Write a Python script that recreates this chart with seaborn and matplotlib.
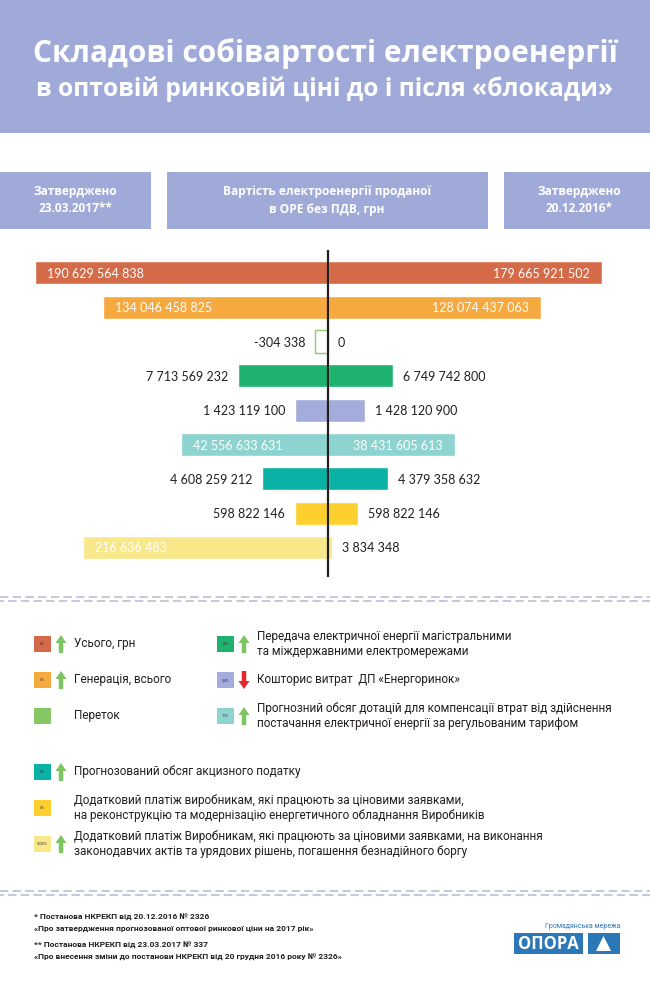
import matplotlib
matplotlib.use("Agg")
import matplotlib.pyplot as plt
import seaborn as sns
import pandas as pd
from matplotlib.patches import Rectangle, FancyArrow, Polygon

# ---------------- data ----------------
categories = ["Усього", "Генерація", "Переток", "Передача", "Кошторис",
              "Дотації", "Акциз", "Платіж (модернізація)", "Платіж (борги)"]

# затверджено 23.03.2017 (ліва частина), грн
value_2017 = [190629564838, 134046458825, -304338, 7713569232, 1423119100,
              42556633631, 4608259212, 598822146, 216636483]
# затверджено 20.12.2016 (права частина), грн
value_2016 = [179665921502, 128074437063, 0, 6749742800, 1428120900,
              38431605613, 4379358632, 598822146, 3834348]

# довжина смуг на інфографіці (не в масштабі)
bar_2017 = [293, 225, 13, 90, 33, 147, 66, 33, 245]
bar_2016 = [274, 213, 0, 65, 37, 127, 60, 30, 4]

bar_colors = ["#D56A48", "#F6A93E", "#8DCB6E", "#1EB26F", "#A3ACDA",
              "#8DD3CF", "#0AB2A6", "#FDD02F", "#F8E88A"]

legend_labels = [
    "Усього, грн",
    "Генерація, всього",
    "Переток",
    "Передача електричної енергії магістральними\nта міждержавними електромережами",
    "Кошторис витрат  ДП «Енергоринок»",
    "Прогнозний обсяг дотацій для компенсації втрат від здійснення\nпостачання електричної енергії за регульованим тарифом",
    "Прогнозований обсяг акцизного податку",
    "Додатковий платіж виробникам, які працюють за ціновими заявками,\nна реконструкцію та модернізацію енергетичного обладнання Виробників",
    "Додатковий платіж Виробникам, які працюють за ціновими заявками, на виконання\nзаконодавчих актів та урядових рішень, погашення безнадійного боргу",
]
legend_pct = ["6%", "5%", "", "14%", "0,4%", "11%", "5%", "0%", "5550%"]
legend_trend = ["up", "up", None, "up", "down", "up", "up", None, "up"]

footnotes = [
    "* Постанова НКРЕКП від 20.12.2016 № 2326",
    "«Про затвердження прогнозованої оптової ринкової ціни на 2017 рік»",
    "** Постанова НКРЕКП від 23.03.2017 № 337",
    "«Про внесення зміни до постанови НКРЕКП від 20 грудня 2016 року № 2326»",
]

# ---------------- style ----------------
sns.set_theme(style="white")
plt.rcParams["font.family"] = ["Roboto", "DejaVu Sans"]

PURPLE = "#A0AAD9"
DARK = "#231F20"
GREEN_ARROW = "#7DC462"
RED_ARROW = "#E0282E"
BLUE = "#2B77B7"


def fmt(v):
    return f"{v:,}".replace(",", " ")


fig = plt.figure(figsize=(6.5, 9.84), dpi=100)

# фон у пікселях
bg = fig.add_axes([0, 0, 1, 1])
bg.set_xlim(0, 650)
bg.set_ylim(984, 0)
bg.axis("off")

# --- шапка ---
bg.add_patch(Rectangle((0, 0), 650, 133, color=PURPLE, lw=0))
bg.text(325, 62, "Складові собівартості електроенергії", ha="center", va="baseline",
        color="white", fontsize=21.5, fontweight="bold", family="Open Sans")
bg.text(325, 96, "в оптовій ринковій ціні до і після «блокади»", ha="center", va="baseline",
        color="white", fontsize=17.7, fontweight="bold", family="Open Sans")

for x0, w, txt, cx in [(0, 151, "Затверджено\n23.03.2017**", 75),
                       (167, 321, "Вартість електроенергії проданої\nв ОРЕ без ПДВ, грн", 327),
                       (504, 146, "Затверджено\n20.12.2016*", 579)]:
    bg.add_patch(Rectangle((x0, 172), w, 57, color=PURPLE, lw=0))
    bg.text(cx, 200, txt, ha="center", va="center", color="white", fontsize=8.6,
            fontweight="bold", family="Open Sans", linespacing=1.5)

# --- смуги ---
ax = fig.add_axes([0, 1 - 577 / 984, 1, (577 - 250) / 984])
df_left = pd.DataFrame({"cat": categories, "len": [-v for v in bar_2017]})
df_right = pd.DataFrame({"cat": categories, "len": bar_2016})
for d in (df_left, df_right):
    sns.barplot(data=d, x="len", y="cat", hue="cat", palette=bar_colors, dodge=False,
                legend=False, width=0.67, saturation=1, orient="h", ax=ax, zorder=2)

# переток: лише контур
for p in ax.patches:
    yc = p.get_y() + p.get_height() / 2
    if abs(yc - 2) < 0.1 and p.get_width() < 0:
        p.set_facecolor("white")
        p.set_edgecolor(bar_colors[2])
        p.set_linewidth(1)

ax.axvline(0, color=DARK, lw=1.6, zorder=5)
ax.set_xlim(-328, 322)
ax.set_ylim(8.86, -0.67)
ax.set_facecolor("none")
ax.axis("off")

lab_kw = dict(va="center_baseline", fontsize=9, family="Lato", zorder=6)
for i in range(len(categories)):
    L, R = bar_2017[i], bar_2016[i]
    if L > 100:
        ax.text(-L + 12, i, fmt(value_2017[i]), ha="left", color="white", **lab_kw)
    else:
        ax.text(-L - 10, i, fmt(value_2017[i]), ha="right", color=DARK, **lab_kw)
    if R > 100:
        ax.text(R - 12, i, fmt(value_2016[i]), ha="right", color="white", **lab_kw)
    else:
        ax.text(R + 10, i, fmt(value_2016[i]), ha="left", color=DARK, **lab_kw)

# --- пунктирні розділювачі ---
for y0 in (597, 891):
    bg.plot([0, 650], [y0, y0], color="#B4B9D4", lw=1.1, ls=(0, (5.5, 2.8)))
    bg.plot([0, 650], [y0 + 3.5, y0 + 3.5], color="#B4B9D4", lw=1.1, ls=(3, (5.5, 2.8)))

# --- легенда ---
legend_pos = [(34, 644), (34, 680), (34, 716), (217, 644), (217, 680), (217, 716),
              (34, 772), (34, 808), (34, 844)]
for i, (x, y) in enumerate(legend_pos):
    col = "#85C765" if i == 2 else bar_colors[i]
    bg.add_patch(Rectangle((x, y - 8), 17, 16, color=col, lw=0))
    if legend_pct[i]:
        bg.text(x + 8.5, y, legend_pct[i], ha="center", va="center", fontsize=2.6,
                color="#333333")
    if legend_trend[i] == "up":
        bg.add_patch(FancyArrow(x + 27, y + 9, 0, -18, width=4.5, head_width=11,
                                head_length=8, length_includes_head=True,
                                color=GREEN_ARROW, lw=0))
    elif legend_trend[i] == "down":
        bg.add_patch(FancyArrow(x + 27, y - 9, 0, 18, width=4.5, head_width=11,
                                head_length=8, length_includes_head=True,
                                color=RED_ARROW, lw=0))
    bg.text(x + 40, y, legend_labels[i], ha="left", va="center", fontsize=8.5,
            color=DARK, linespacing=1.2)

# --- примітки ---
for y, t in zip([916, 928, 945, 957], footnotes):
    bg.text(34, y, t, ha="left", va="center", fontsize=6, fontweight="bold", color=DARK)

# --- логотип ---
bg.text(620, 927, "Громадянська мережа", ha="right", va="center", fontsize=5, color=BLUE)
bg.add_patch(Rectangle((514, 933), 69, 21, color=BLUE, lw=0))
bg.add_patch(Rectangle((587.5, 933), 32.5, 21, color=BLUE, lw=0))
bg.text(548.5, 944, "ОПОРА", ha="center", va="center", color="white", fontsize=12,
        fontweight="bold", family="Open Sans")
bg.add_patch(Polygon([[596, 951], [611, 951], [603.5, 936]], closed=True, color="white", lw=0))

fig.savefig("out.png", dpi=100, facecolor="white")
